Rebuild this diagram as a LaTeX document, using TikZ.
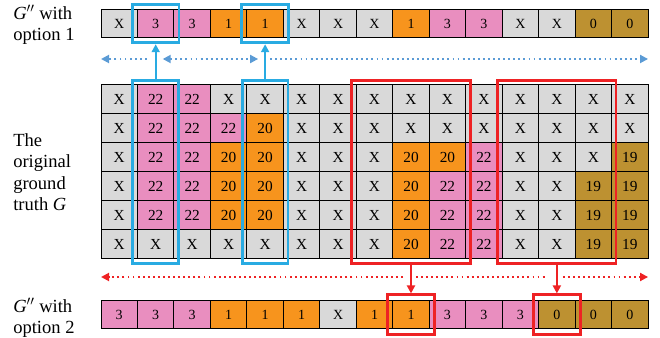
\documentclass[tikz,border=0pt]{standalone}
\usepackage{fontspec}
\setmainfont{Liberation Serif}
\usepackage{tikz}
\usetikzlibrary{arrows.meta,positioning,fit,calc}
\definecolor{cellgray}{HTML}{D9D9D9}
\definecolor{cellpink}{HTML}{E98EBF}
\definecolor{cellorange}{HTML}{F7941D}
\definecolor{cellgold}{HTML}{BD9131}
\definecolor{boxblue}{HTML}{29ABE2}
\definecolor{dotblue}{HTML}{5B9BD5}
\definecolor{boxred}{HTML}{EE2224}
\tikzset{
  cell/.style={
    rectangle, draw=black, line width=0.75pt,
    minimum width=27.35pt, minimum height=21.75pt,
    inner sep=0pt, outer sep=0pt,
    font=\fontsize{11.5}{12}\selectfont
  },
  rowcell/.style={
    cell, minimum height=21.3pt,
    font=\fontsize{10.5}{11}\selectfont
  },
  cX/.style={fill=cellgray},
  c22/.style={fill=cellpink},
  c20/.style={fill=cellorange},
  c19/.style={fill=cellgold},
  c3/.style={fill=cellpink},
  c1/.style={fill=cellorange},
  c0/.style={fill=cellgold},
  selbox/.style={
    rectangle, draw=#1, line width=2.2pt, inner sep=3.5pt
  },
  selbox/.default=boxblue,
  pickarrow/.style={
    -{Triangle[length=6pt,width=6pt]}, line width=1.8pt, color=#1
  },
  pickarrow/.default=boxblue,
  shiftarrow/.style={
    line width=1.4pt, color=#1, dash pattern=on 1.4pt off 2.4pt,
    arrows={-Triangle[length=6pt,width=6pt]}
  },
  shiftline/.style={
    line width=1.4pt, color=#1, dash pattern=on 1.4pt off 2.4pt
  },
  sidelabel/.style={
    font=\fontsize{13.9}{16}\selectfont, align=left, anchor=west,
    inner sep=0pt
  },
}
\begin{document}
\begin{tikzpicture}[x=0.75pt, y=-0.75pt]
  \useasboundingbox (0,0) rectangle (660,338);

  % G'' with option 1
  \foreach \v [count=\c from 0] in {X,3,3,1,1,X,X,X,1,3,3,X,X,0,0}
    \node[rowcell, c\v] (top-\c) at ({101+36.47*(\c+0.5)}, 23.5) {\v};

  % original ground truth
  \foreach \rowvals [count=\r from 0] in {
      {X,22,22,X,X,X,X,X,X,X,X,X,X,X,X},
      {X,22,22,22,20,X,X,X,X,X,X,X,X,X,X},
      {X,22,22,20,20,X,X,X,20,20,22,X,X,X,19},
      {X,22,22,20,20,X,X,X,20,22,22,X,X,19,19},
      {X,22,22,20,20,X,X,X,20,22,22,X,X,19,19},
      {X,X,X,X,X,X,X,X,20,22,22,X,X,19,19}}
    \foreach \v [count=\c from 0] in \rowvals
      \node[cell, c\v] (g-\r-\c) at ({101+36.47*(\c+0.5)}, {85+29*(\r+0.5)}) {\v};

  % G'' with option 2
  \foreach \v [count=\c from 0] in {3,3,3,1,1,1,X,1,1,3,3,3,0,0,0}
    \node[rowcell, c\v] (bot-\c) at ({101+36.47*(\c+0.5)}, 314.7) {\v};

  \node[sidelabel] (lab1) at (13,25) {\textit{G}$''$ with\\option 1};
  \node[sidelabel] (labG) at (13,172) {The\\original\\ground\\truth \textit{G}};
  \node[sidelabel] (lab2) at (13,318) {\textit{G}$''$ with\\option 2};

  % option 1 selections
  \node[selbox, fit=(top-1), inner sep=3.8pt] (tb1) {};
  \node[selbox, fit=(top-4), inner sep=3.8pt] (tb4) {};
  \node[selbox, fit=(g-0-1)(g-5-1)] (mb1) {};
  \node[selbox, fit=(g-0-4)(g-5-4)] (mb4) {};
  \draw[pickarrow] (mb1.north) -- (tb1.south);
  \draw[pickarrow] (mb4.north) -- (tb4.south);

  \coordinate (bL) at (g-0-0.west |- 0,59);
  \coordinate (bR) at (g-0-14.east |- 0,59);
  \coordinate (b1) at (tb1.south |- bL);
  \coordinate (b4) at (tb4.south |- bL);
  \draw[shiftarrow=dotblue] ($(b1)+(-9,0)$) -- (bL);
  \draw[shiftarrow=dotblue, arrows={Triangle[length=6pt,width=6pt]-Triangle[length=6pt,width=6pt]}]
    ($(b1)+(7,0)$) -- ($(b4)+(-7,0)$);
  \draw[shiftarrow=dotblue] ($(b4)+(5,0)$) -- (bR);

  % option 2 selections
  \node[selbox=boxred, fit=(g-0-7)(g-5-9), inner sep=3.3pt] (rb1) {};
  \node[selbox=boxred, fit=(g-0-11)(g-5-13), inner sep=3.3pt] (rb2) {};
  \node[selbox=boxred, fit=(bot-8), inner sep=4.2pt] (bb8) {};
  \node[selbox=boxred, fit=(bot-12), inner sep=4.2pt] (bb12) {};
  \draw[pickarrow=boxred] (rb1.south) -- (bb8.north);
  \draw[pickarrow=boxred] (rb2.south) -- (bb12.north);

  \coordinate (rL) at (g-0-0.west |- 0,277);
  \coordinate (rR) at (g-0-14.east |- 0,277);
  \coordinate (r8) at (bb8.north |- rL);
  \coordinate (r12) at (bb12.north |- rL);
  \draw[shiftarrow=boxred] ($(r8)+(-8,0)$) -- (rL);
  \draw[shiftline=boxred] ($(r8)+(5,0)$) -- ($(r12)+(-10,0)$);
  \draw[shiftarrow=boxred] ($(r12)+(6,0)$) -- (rR);
\end{tikzpicture}
\end{document}
